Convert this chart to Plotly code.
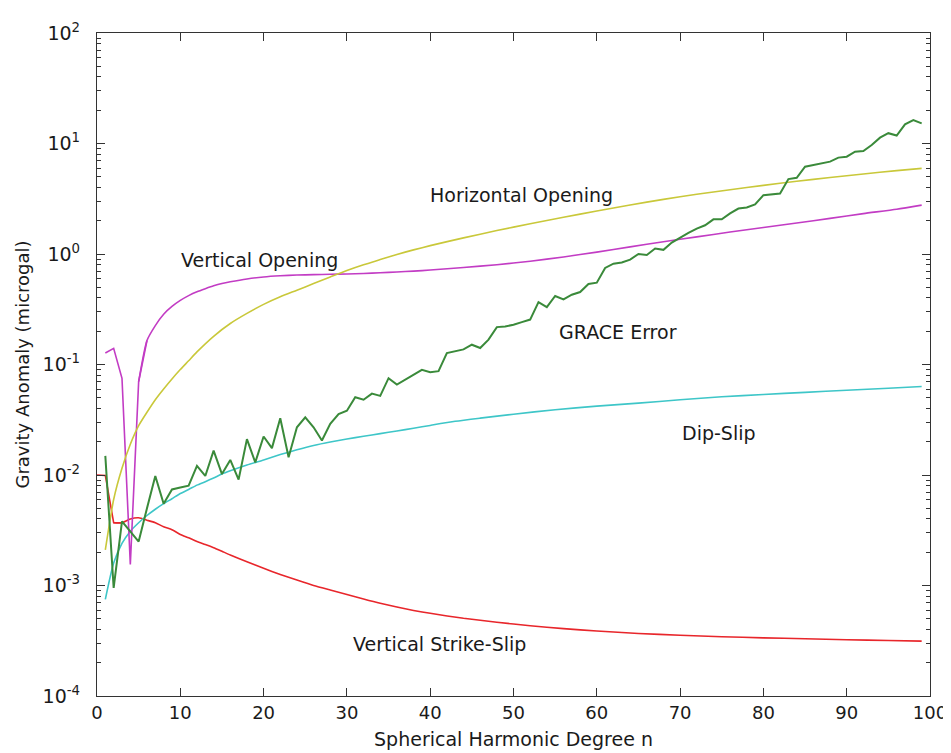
import plotly.graph_objects as go

# ---------------- data ----------------
n_strike = [0, 1, 2, 3, 4, 5, 6, 7, 8, 9, 10, 11, 12, 13, 14, 15, 16, 18, 20, 22, 24, 26, 28, 30,
            32, 34, 36, 38, 40, 44, 48, 52, 56, 60, 65, 70, 75, 80, 85, 90, 95, 99]
v_strike = [0.0100, 0.0099, 0.0037, 0.0037, 0.0040, 0.0041, 0.0039, 0.0037, 0.0034, 0.0032, 0.0029,
            0.0027, 0.0025, 0.00235, 0.0022, 0.00204, 0.00189, 0.00164, 0.00143, 0.00126, 0.00112,
            0.00100, 0.00091, 0.00083, 0.000755, 0.00069, 0.000638, 0.000595, 0.00056, 0.000505,
            0.000465, 0.000432, 0.000407, 0.000387, 0.000368, 0.000355, 0.000344, 0.000336,
            0.00033, 0.000323, 0.000318, 0.000314]

n_dip = [1, 2, 3, 4, 5, 6, 7, 8, 9, 10, 11, 12, 13, 14, 15, 16, 18, 20, 22, 24, 26, 28, 30, 32, 34,
         36, 38, 40, 43, 46, 50, 55, 60, 65, 70, 75, 80, 85, 90, 95, 99]
v_dip = [0.00075, 0.0016, 0.0024, 0.0031, 0.0037, 0.0043, 0.0049, 0.0055, 0.0061, 0.0068, 0.0074,
         0.0081, 0.0087, 0.0094, 0.0102, 0.0109, 0.0123, 0.0137, 0.0153, 0.0169, 0.0185, 0.0199,
         0.0212, 0.0224, 0.0237, 0.0250, 0.0265, 0.0281, 0.0306, 0.0327, 0.0355, 0.039, 0.042,
         0.0447, 0.048, 0.051, 0.0535, 0.056, 0.0585, 0.061, 0.0632]

n_vopen = [1, 2, 3, 4, 5, 6, 7, 8, 9, 10, 11, 12, 13, 14, 15, 16, 18, 20, 22, 24, 26, 28, 30, 32,
           34, 36, 38, 40, 44, 48, 52, 56, 60, 64, 68, 72, 76, 80, 84, 88, 92, 96, 99]
v_vopen = [0.127, 0.14, 0.075, 0.00155, 0.070, 0.165, 0.225, 0.285, 0.335, 0.38, 0.42, 0.455, 0.485,
           0.515, 0.54, 0.56, 0.595, 0.62, 0.635, 0.645, 0.65, 0.655, 0.66, 0.667, 0.676, 0.688,
           0.70, 0.716, 0.755, 0.80, 0.86, 0.94, 1.04, 1.16, 1.29, 1.43, 1.58, 1.74, 1.91, 2.10,
           2.32, 2.54, 2.77]

n_hopen = [1, 2, 3, 4, 5, 6, 7, 8, 9, 10, 11, 12, 14, 16, 18, 20, 22, 24, 26, 28, 30, 32, 34, 36,
           38, 40, 44, 48, 52, 56, 60, 64, 68, 72, 76, 80, 84, 88, 92, 96, 99]
v_hopen = [0.0021, 0.006, 0.0115, 0.019, 0.028, 0.037, 0.048, 0.060, 0.074, 0.090, 0.108, 0.13,
           0.18, 0.235, 0.29, 0.35, 0.41, 0.47, 0.54, 0.62, 0.71, 0.80, 0.89, 0.99, 1.09, 1.19,
           1.40, 1.63, 1.88, 2.15, 2.45, 2.78, 3.12, 3.47, 3.82, 4.18, 4.55, 4.93, 5.3, 5.68, 5.96]

n_grace = list(range(1, 100))
v_grace = [0.0149, 0.00095, 0.0038, 0.0031, 0.0025, 0.0050, 0.0098, 0.0055, 0.0074, 0.0077,
           0.0080, 0.0121, 0.0098, 0.0166, 0.0102, 0.0137, 0.0091, 0.0211, 0.0130, 0.0223,
           0.0175, 0.0326, 0.0145, 0.0270, 0.0333, 0.0270, 0.0205, 0.0290, 0.0356, 0.0382,
           0.0505, 0.0480, 0.0545, 0.0520, 0.0752, 0.0658, 0.0730, 0.0805, 0.0894, 0.0851,
           0.0870, 0.127, 0.131, 0.137, 0.151, 0.141, 0.168, 0.218, 0.221, 0.229,
           0.242, 0.255, 0.367, 0.331, 0.417, 0.388, 0.428, 0.453, 0.535, 0.55,
           0.748, 0.818, 0.838, 0.89, 1.0, 0.98, 1.12, 1.09, 1.27, 1.41,
           1.55, 1.70, 1.82, 2.06, 2.06, 2.33, 2.58, 2.64, 2.81, 3.41,
           3.49, 3.53, 4.76, 4.90, 6.17, 6.39, 6.61, 6.85, 7.45, 7.6,
           8.43, 8.55, 9.68, 11.3, 12.4, 11.8, 14.9, 16.3, 15.2]

y_major = [1e-4, 1e-3, 1e-2, 1e-1, 1e0, 1e1, 1e2]
y_major_text = ["10<sup>-4</sup>", "10<sup>-3</sup>", "10<sup>-2</sup>", "10<sup>-1</sup>",
                "10<sup>0</sup>", "10<sup>1</sup>", "10<sup>2</sup>"]

labels = ["Vertical Opening", "Horizontal Opening", "GRACE Error", "Dip-Slip", "Vertical Strike-Slip"]
label_x = [19.5, 50.9, 62.6, 74.7, 41.1]
label_logy = [-0.057, 0.531, -0.708, -1.62, -3.527]

# ---------------- figure ----------------
fig = go.Figure()


def add_line(xs, ys, col, w, shape):
    line = dict(color=col, width=w, shape=shape)
    if shape == "spline":
        line["smoothing"] = 0.6
    fig.add_trace(go.Scatter(x=xs, y=ys, mode="lines", line=line,
                             hoverinfo="skip", showlegend=False))


# Vertical strike-slip: sharp corner at the start, smooth afterwards
add_line(n_strike[:4], v_strike[:4], "#E8262B", 1.6, "linear")
add_line(n_strike[2:], v_strike[2:], "#E8262B", 1.6, "spline")
# Dip-slip
add_line(n_dip, v_dip, "#3EC6C8", 1.6, "spline")
# Vertical opening: straight segments through the dip, smooth afterwards
add_line(n_vopen[:6], v_vopen[:6], "#C23CC4", 1.6, "linear")
add_line(n_vopen[4:], v_vopen[4:], "#C23CC4", 1.6, "spline")
# Horizontal opening
add_line(n_hopen, v_hopen, "#C9C83A", 1.6, "spline")
# GRACE error
add_line(n_grace, v_grace, "#3A8A3A", 2.0, "linear")

for t, lx, ly in zip(labels, label_x, label_logy):
    fig.add_annotation(x=lx, y=ly, xref="x", yref="y", text=t, showarrow=False,
                       font=dict(family="DejaVu Sans", size=19, color="#1a1a1a"))

minor_vals = [m * 10 ** e for e in range(-4, 2) for m in range(2, 10)]

fig.update_layout(
    width=951, height=753,
    margin=dict(l=89, r=20, t=24, b=65),
    plot_bgcolor="white", paper_bgcolor="white",
    showlegend=False,
    font=dict(family="DejaVu Sans", size=18, color="#1a1a1a"),
)
fig.update_xaxes(
    range=[0, 100], tick0=0, dtick=10,
    ticks="inside", ticklen=8, tickcolor="#333", tickwidth=1,
    showline=True, linecolor="#333", linewidth=1.3, mirror="ticks",
    showgrid=False, zeroline=False,
    tickfont=dict(size=18),
    title=dict(text="Spherical Harmonic Degree n", font=dict(size=19), standoff=10),
)
fig.update_yaxes(
    type="log", range=[-4, 2],
    tickmode="array", tickvals=y_major, ticktext=y_major_text,
    ticks="inside", ticklen=8, tickcolor="#333", tickwidth=1,
    ticklabelstandoff=12,
    minor=dict(tickmode="array", tickvals=minor_vals, ticks="inside", ticklen=4,
               tickcolor="#333", showgrid=False),
    showline=True, linecolor="#333", linewidth=1.3, mirror="ticks",
    showgrid=False, zeroline=False,
    tickfont=dict(size=19),
    title=dict(text="Gravity Anomaly (microgal)", font=dict(size=18), standoff=8),
)

fig.write_html("out.html")
